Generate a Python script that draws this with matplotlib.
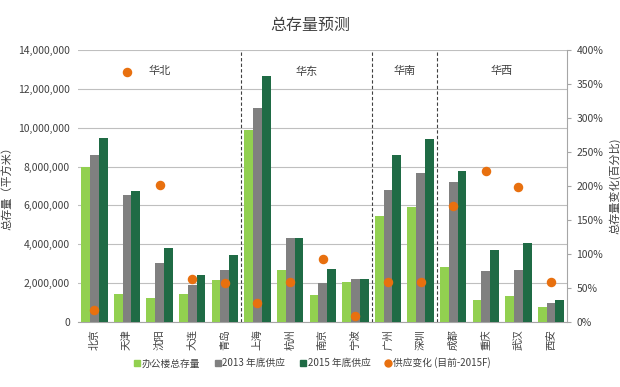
import matplotlib
matplotlib.use("Agg")
import matplotlib.pyplot as plt
import numpy as np
from matplotlib.ticker import FuncFormatter, MultipleLocator
from matplotlib.lines import Line2D

plt.rcParams['font.family'] = ['Noto Sans CJK SC', 'DejaVu Sans']

cities = ['北京', '天津', '沈阳', '大连', '青岛', '上海', '杭州', '南京', '宁波',
          '广州', '深圳', '成都', '重庆', '武汉', '西安']
stock_total = [8000000, 1450000, 1250000, 1450000, 2150000, 9900000, 2700000, 1400000,
               2050000, 5450000, 5900000, 2850000, 1150000, 1350000, 750000]
supply_2013 = [8600000, 6550000, 3050000, 1900000, 2700000, 11000000, 4300000, 2000000,
               2200000, 6800000, 7650000, 7200000, 2600000, 2700000, 1000000]
supply_2015 = [9450000, 6750000, 3800000, 2400000, 3450000, 12650000, 4300000, 2750000,
               2200000, 8600000, 9400000, 7750000, 3700000, 4050000, 1150000]
supply_change = [17, 367, 201, 63, 58, 28, 59, 93, 9, 59, 59, 171, 222, 198, 59]
regions = ['华北', '华东', '华南', '华西']
region_bounds = [(0, 5), (5, 9), (9, 11), (11, 15)]

c_light = '#92D050'
c_gray = '#808080'
c_dark = '#1F6B45'
c_orange = '#E8700F'

fig = plt.figure(figsize=(6.2, 3.87), dpi=100)
ax = fig.add_axes([0.126, 0.168, 0.789, 0.703])
x = np.arange(len(cities))
w = 0.27
ax.bar(x - w, stock_total, w, color=c_light, zorder=3)
ax.bar(x, supply_2013, w, color=c_gray, zorder=3)
ax.bar(x + w, supply_2015, w, color=c_dark, zorder=3)
ax.set_xlim(-0.5, len(cities) - 0.5)
ax.set_ylim(0, 14000000)
ax.yaxis.set_major_locator(MultipleLocator(2000000))
ax.yaxis.set_major_formatter(FuncFormatter(lambda v, p: f'{int(v):,}'))
ax.grid(axis='y', color='#BFBFBF', linewidth=0.8, zorder=0)
for s in ['top', 'right', 'left']:
    ax.spines[s].set_visible(False)
ax.spines['bottom'].set_color('#A6A6A6')
ax.tick_params(axis='y', length=0, labelsize=7.5, colors='#404040', pad=6)
ax.tick_params(axis='x', length=0, labelsize=7.5, colors='#404040', pad=5)
ax.set_xticks(x)
ax.set_xticklabels(cities, rotation=90)
ax.set_ylabel('总存量（平方米）', fontsize=8, color='#404040')

for (a, b) in region_bounds[1:]:
    ax.axvline(a - 0.5, color='#404040', linestyle=(0, (3, 2)), linewidth=0.8, zorder=4)
for name, (a, b) in zip(regions, region_bounds):
    ax.text((a + b - 1) / 2, 12900000, name, ha='center', va='center', fontsize=8, color='#404040')

ax2 = ax.twinx()
ax2.scatter(x, supply_change, s=34, color=c_orange, zorder=5)
ax2.set_ylim(0, 400)
ax2.yaxis.set_major_locator(MultipleLocator(50))
ax2.yaxis.set_major_formatter(FuncFormatter(lambda v, p: f'{int(v)}%'))
for s in ['top', 'left', 'bottom']:
    ax2.spines[s].set_visible(False)
ax2.spines['right'].set_color('#A6A6A6')
ax2.tick_params(axis='y', length=3, color='#A6A6A6', labelsize=7.5, colors='#404040')
ax2.set_ylabel('总存量变化(百分比)', fontsize=8, color='#404040')

fig.suptitle('总存量预测', y=0.955, fontsize=11.5, color='#404040')

handles = [Line2D([], [], marker='s', linestyle='none', color=c_light, markersize=5),
           Line2D([], [], marker='s', linestyle='none', color=c_gray, markersize=5),
           Line2D([], [], marker='s', linestyle='none', color=c_dark, markersize=5),
           Line2D([], [], marker='o', linestyle='none', color=c_orange, markersize=5)]
labels = ['办公楼总存量', '2013 年底供应', '2015 年底供应', '供应变化 (目前-2015F)']
fig.legend(handles, labels, loc='center', bbox_to_anchor=(0.502, 0.062), ncol=4,
           frameon=False, fontsize=7, handletextpad=0.0, columnspacing=1.3,
           handlelength=1.0, labelcolor='#404040')

fig.savefig('out.png', dpi=100)
